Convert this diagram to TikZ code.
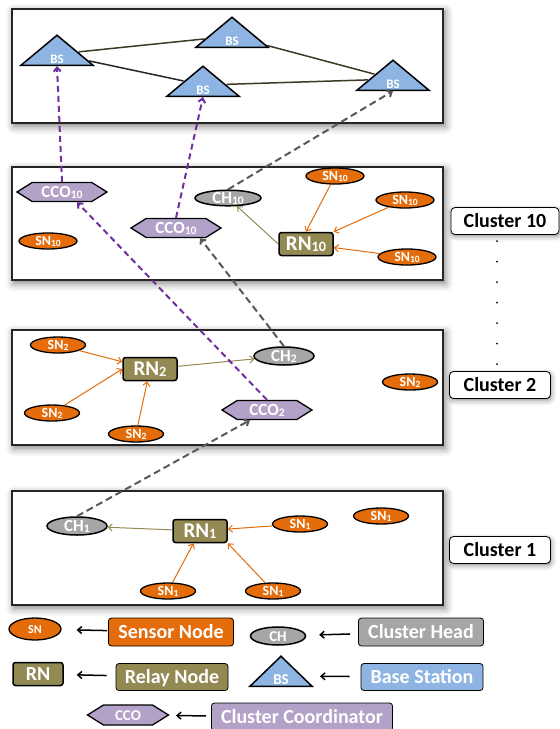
\documentclass[tikz,border=0pt]{standalone}
\usepackage{fontspec}
\setmainfont{Carlito}
\usetikzlibrary{shapes.geometric,shapes.symbols,arrows.meta,shadows.blur}

\definecolor{snorange}{HTML}{E46C0A}
\definecolor{rnolive}{HTML}{938953}
\definecolor{chgray}{HTML}{A6A6A6}
\definecolor{bsblue}{HTML}{8DB4E2}
\definecolor{ccolilac}{HTML}{B3A2C7}
\definecolor{linkpurple}{HTML}{7030A0}
\definecolor{linkgray}{HTML}{595959}
\definecolor{linkolive}{HTML}{948A54}
\definecolor{bsline}{HTML}{3D3A26}

\newcommand{\nsub}[1]{\raisebox{-1pt}{\scalebox{0.68}{#1}}}
\newcommand{\bstext}[1]{\raisebox{-5pt}{#1}}

\tikzset{
  panel/.style={draw=black!85, line width=2pt, fill=white,
    blur shadow={shadow xshift=2pt, shadow yshift=-3pt, shadow blur radius=8pt,
      shadow opacity=55}},
  whitetext/.style={text=white, inner sep=0pt, text depth=0pt},
  sn/.style={ellipse, draw=black, line width=1.3pt, fill=snorange, whitetext,
    text height=9pt, font=\bfseries\fontsize{14}{14}\selectfont,
    minimum width=58pt, minimum height=16pt},
  rn/.style={rectangle, rounded corners=2.5pt, draw=black, line width=1.5pt,
    fill=rnolive, whitetext, text height=13pt,
    font=\bfseries\fontsize{21}{21}\selectfont,
    minimum width=54pt, minimum height=23pt},
  ch/.style={ellipse, draw=black, line width=1.5pt, fill=chgray, whitetext,
    text height=11pt, font=\bfseries\fontsize{17}{17}\selectfont,
    minimum width=60pt, minimum height=18pt},
  cco/.style={signal, signal to=east and west, signal pointer angle=64,
    draw=black, line width=1.3pt, fill=ccolilac, whitetext, text height=11pt,
    font=\bfseries\fontsize{17}{17}\selectfont,
    minimum width=90pt, minimum height=19pt},
  bs/.style={isosceles triangle, isosceles triangle stretches,
    shape border rotate=90, draw=black, line width=1.5pt, fill=bsblue,
    whitetext, text height=8.5pt, font=\bfseries\fontsize{13}{13}\selectfont,
    minimum width=72pt, minimum height=30pt},
  clusterbox/.style={rectangle, rounded corners=4pt, draw=black,
    line width=0.8pt, fill=white, inner sep=0pt, text height=13pt,
    text depth=0pt, font=\bfseries\fontsize{20}{20}\selectfont,
    minimum height=27pt, blur shadow={shadow xshift=1pt, shadow yshift=-2pt,
      shadow blur radius=5pt, shadow opacity=45}},
  keybox/.style={rectangle, rounded corners=3pt, draw=black, line width=0.8pt,
    whitetext, text height=13pt, font=\bfseries\fontsize{20}{20}\selectfont,
    minimum height=28pt},
  snlink/.style={->, draw=snorange, line width=1pt},
  rnlink/.style={->, draw=linkolive, line width=1pt},
  bslink/.style={draw=bsline, line width=1.5pt},
  ccolink/.style={->, draw=linkpurple, line width=2pt, dash pattern=on 6pt off 4pt},
  chlink/.style={->, draw=linkgray, line width=2pt, dash pattern=on 7pt off 4pt},
  keyarrow/.style={->, draw=black, line width=1.5pt}
}

\begin{document}
\begin{tikzpicture}[x=1pt, y=-1pt, >={Straight Barb[length=4pt,width=7pt]}]
  \useasboundingbox (0,0) rectangle (560,729);

  % panels
  \foreach \ytop/\ybot in {9/123,167/280,330/445,491/605}
    \draw[panel] (12,\ytop) rectangle (443,\ybot);

  % base stations
  \node[bs, anchor=south] (bs1) at (57,66) {\bstext{BS}};
  \node[bs, anchor=south] (bs2) at (232,48) {\bstext{BS}};
  \node[bs, anchor=south] (bs3) at (203,97) {\bstext{BS}};
  \node[bs, anchor=south] (bs4) at (393,91) {\bstext{BS}};

  \draw[bslink] (bs1) -- (bs2);
  \draw[bslink, draw=black!85] (bs1) -- (bs3);
  \draw[bslink] (bs3) -- (bs4);
  \draw[bslink] (bs2) -- (bs4);

  % cluster 10
  \node[cco] (cco10a) at (62,192) {CCO\nsub{10}};
  \node[cco] (cco10b) at (176,228) {CCO\nsub{10}};
  \node[ch, minimum width=66pt, minimum height=15pt] (ch10) at (228,198) {CH\nsub{10}};
  \node[rn] (rn10) at (306,244) {RN\nsub{10}};
  \foreach \name/\pos in {sn10x/{48,241}, sn10a/{335,176}, sn10b/{405,200}, sn10c/{407,257}}
    \node[sn] (\name) at (\pos) {SN\nsub{10}};

  \draw[snlink] (sn10a) -- (rn10.north);
  \draw[snlink] (sn10b) -- (rn10);
  \draw[snlink] (sn10c) -- (rn10);
  \draw[rnlink] (rn10.west) -- (ch10);

  % cluster 2
  \node[rn] (rn2) at (150,369) {RN\nsub{2}};
  \node[ch] (ch2) at (284,356) {CH\nsub{2}};
  \node[cco] (cco2) at (267,410) {CCO\nsub{2}};
  \foreach \name/\pos in {sn2a/{58,345}, sn2b/{52,413}, sn2c/{136,434}, sn2x/{410,382}}
    \node[sn, minimum width=55pt] (\name) at (\pos) {SN\nsub{2}};

  \draw[snlink] (sn2a) -- (rn2);
  \draw[snlink] (sn2b) -- (rn2.west);
  \draw[snlink] (sn2c) -- (rn2);
  \draw[rnlink] (rn2) -- (ch2);

  % cluster 1
  \node[ch] (ch1) at (77,526) {CH\nsub{1}};
  \node[rn] (rn1) at (200,531) {RN\nsub{1}};
  \foreach \name/\pos in {sn1a/{300,524}, sn1x/{381,516}, sn1c/{168,591}, sn1d/{273,591}}
    \node[sn, minimum width=55pt] (\name) at (\pos) {SN\nsub{1}};

  \draw[snlink] (sn1a) -- (rn1);
  \draw[snlink] (sn1c) -- (rn1);
  \draw[snlink] (sn1d) -- (rn1.south east);
  \draw[rnlink] (rn1) -- (ch1);

  % links between clusters
  \draw[ccolink] (cco10a.north) -- (bs1.south);
  \draw[ccolink] (cco10b.north) -- (bs3.south);
  \draw[ccolink] (cco2.north) -- ([xshift=15pt]cco10a.south);
  \draw[chlink] (ch10.north) -- (bs4.south);
  \draw[chlink] (ch2.north) -- ([xshift=24pt]cco10b.south);
  \draw[chlink] (ch1.north) -- ([xshift=-17pt]cco2.south);

  % cluster names
  \node[clusterbox, minimum width=108pt] (c10) at (505,221) {Cluster 10};
  \node[clusterbox, minimum width=101pt] (c2) at (500,385) {Cluster 2};
  \node[clusterbox, minimum width=101pt] (c1) at (500,550) {Cluster 1};
  \foreach \k in {0,...,6}
    \fill (497,{241+20.5*\k}) circle (1pt);

  % legend
  \node[sn, minimum width=52pt, minimum height=22pt, text height=8pt,
    font=\bfseries\fontsize{12}{12}\selectfont] (snkey) at (35,629) {SN};
  \node[rn, minimum width=50pt, minimum height=23pt,
    font=\bfseries\fontsize{20}{20}\selectfont] (rnkey) at (38,674) {RN};
  \node[ch, minimum width=55pt, minimum height=18pt, text height=10pt,
    font=\bfseries\fontsize{15}{15}\selectfont] (chkey) at (278,636) {CH};
  \node[bs, anchor=south, minimum width=62pt, minimum height=30pt,
    font=\bfseries\fontsize{15}{15}\selectfont, text height=10pt] (bskey) at (281,687) {\raisebox{-3pt}{BS}};
  \node[cco, minimum width=81pt, minimum height=20pt, text height=10pt,
    font=\bfseries\fontsize{15}{15}\selectfont] (ccokey) at (128,715) {CCO};

  \node[keybox, fill=snorange, minimum width=125pt] (snlbl) at (171,632) {Sensor Node};
  \node[keybox, fill=rnolive, minimum width=112pt, minimum height=27pt] (rnlbl) at (172,677) {Relay Node};
  \node[keybox, fill=chgray, minimum width=125pt] (chlbl) at (421,632) {Cluster Head};
  \node[keybox, fill=bsblue, minimum width=122pt, minimum height=27pt] (bslbl) at (422,677) {Base Station};
  \node[keybox, fill=ccolilac, minimum width=181pt] (ccolbl) at (302,717) {Cluster Coordinator};

  \draw[keyarrow, shorten <=1pt, shorten >=15pt] (snlbl) -- (snkey);
  \draw[keyarrow, shorten <=9pt, shorten >=13pt] (rnlbl) -- (rnkey);
  \draw[keyarrow, shorten <=8pt, shorten >=13pt] (chlbl) -- (chkey);
  \draw[keyarrow, shorten <=11pt, shorten >=17pt] (bslbl) -- (bskey);
  \draw[keyarrow, shorten <=5pt, shorten >=7pt] (ccolbl) -- (ccokey);
\end{tikzpicture}
\end{document}
